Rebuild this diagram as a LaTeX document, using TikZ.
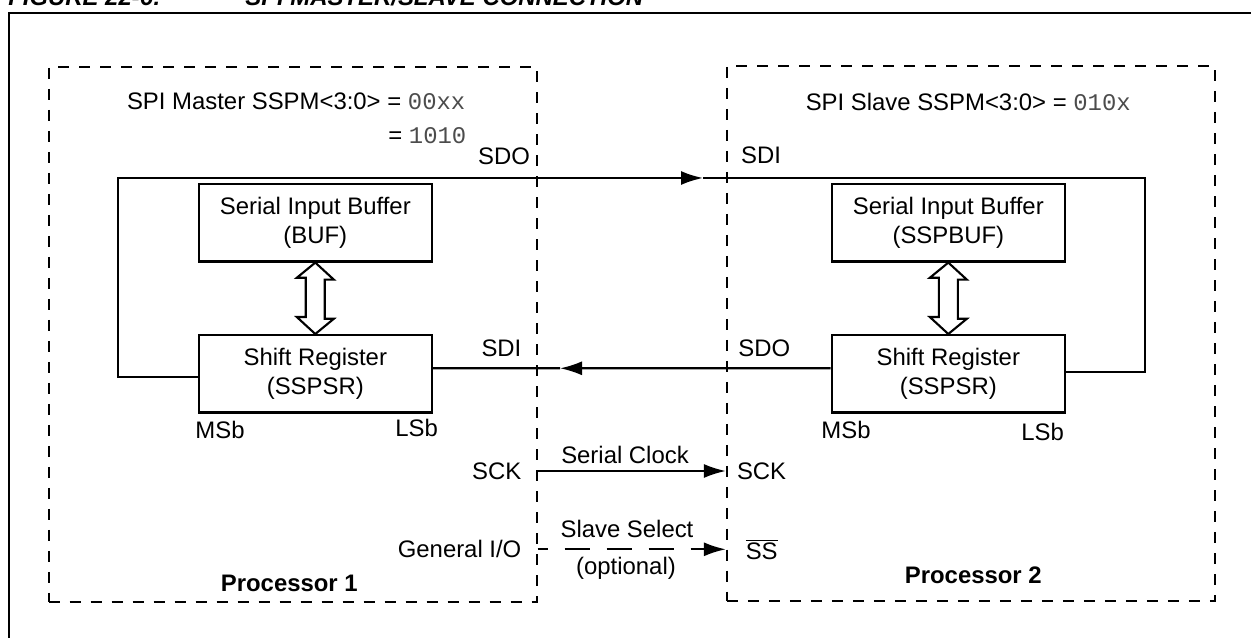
\documentclass[tikz,border=0pt]{standalone}
\usepackage{fontspec}
\setmainfont{Liberation Sans}
\setmonofont{Liberation Mono}
\usetikzlibrary{arrows.meta}

\begin{document}
\begin{tikzpicture}[
            x=0.02cm, y=-0.02cm,
            font=\fontsize{13.6}{16}\selectfont,
            box/.style={rectangle, draw, line width=1.2pt, minimum width=4.67cm, minimum height=1.55cm, align=center, fill=white, inner sep=0pt},
            proc/.style={rectangle, draw, line width=1.2pt, dash pattern=on 0.22cm off 0.2cm, minimum width=9.76cm, minimum height=10.7cm},
            wire/.style={line width=1.2pt},
            arrow/.style={wire, -{Latex[length=0.44cm, width=0.28cm]}},
            bus/.style={line width=1.2pt, fill=white, line join=miter},
            lbl/.style={inner sep=0pt}
        ]
            \useasboundingbox (0,0) rectangle (1251,638);

            % Title
            \node[lbl, anchor=base west, font=\fontsize{13.6}{16}\selectfont\bfseries\itshape] (title) at (8,6) {FIGURE 22-6:};
            \node[lbl, anchor=base west, font=\fontsize{13.6}{16}\selectfont\bfseries\itshape] (title2) at (245,6) {SPI MASTER/SLAVE CONNECTION};
            \draw[line width=1.6pt] (9,13) rectangle (1300,700);

            % Processors
            \node[proc] (proc1) at (292.7,334.4) {};
            \node[proc] (proc2) at (970.9,333.3) {};

            % Registers
            \node[box] (buf1) at (315.3,222.8) {Serial Input Buffer\\(BUF)};
            \node[box] (sr1) at (315.3,373.8) {Shift Register\\(SSPSR)};
            \node[box] (buf2) at (948.3,222.8) {Serial Input Buffer\\(SSPBUF)};
            \node[box] (sr2) at (948.3,373.8) {Shift Register\\(SSPSR)};

            % Bus arrows
            \draw[bus] (buf1.south) -- ++(18.5,17) -- ++(-9,0) -- ++(0,39.2) -- ++(9,0) -- (sr1.north)
                -- ++(-18.5,-17) -- ++(9,0) -- ++(0,-39.2) -- ++(-9,0) -- cycle;
            \draw[bus] (buf2.south) -- ++(18.5,17) -- ++(-9,0) -- ++(0,39.2) -- ++(9,0) -- (sr2.north)
                -- ++(-18.5,-17) -- ++(9,0) -- ++(0,-39.2) -- ++(-9,0) -- cycle;

            % Data lines
            \coordinate (loop1) at (118,178);
            \coordinate (loop2) at (1145,178);
            \coordinate (tip1) at (703,178);
            \coordinate (tip2) at (560,368.3);
            \draw[arrow] ([yshift=-0.06cm]sr1.west) -| (loop1) -- (tip1);
            \draw[wire] (tip1) -- (loop2) |- ([yshift=0.04cm]sr2.east);
            \draw[arrow] ([yshift=0.11cm]sr2.west) -- (tip2);
            \draw[wire] (tip2) -- ([yshift=0.11cm]sr1.east);

            % Labels
            \node[lbl, anchor=west] (mode1) at (126.7,101.6) {SPI Master SSPM<3:0> = {\ttfamily\color{black!70}00xx}};
            \node[lbl, anchor=west] (mode1b) at (388,136) {= {\ttfamily\color{black!70}1010}};
            \node[lbl, anchor=west] (mode2) at (805.4,101.8) {SPI Slave SSPM<3:0> = {\ttfamily\color{black!70}010x}};
            \node[lbl] (sdo1) at (504,156) {SDO};
            \node[lbl, anchor=west] (sdi2) at (740.8,155.7) {SDI};
            \node[lbl, anchor=east] (sdi1) at (521.7,348) {SDI};
            \node[lbl, anchor=west] (sdo2) at (738,348) {SDO};
            \node[lbl] (msb1) at (220,430) {MSb};
            \node[lbl] (lsb1) at (416.7,428) {LSb};
            \node[lbl] (msb2) at (846,430) {MSb};
            \node[lbl] (lsb2) at (1042.7,432) {LSb};

            % Clock and select
            \node[lbl, anchor=east] (sck1) at (521.7,471) {SCK};
            \node[lbl, anchor=west] (sck2) at (736.7,471) {SCK};
            \node[lbl] (clk) at (625,455) {Serial Clock};
            \draw[arrow] (sck1 -| proc1.east) -- (sck2 -| proc2.west);
            \node[lbl, anchor=east] (gio) at (521.7,549.3) {General I/O};
            \node[lbl] (ss) at (761.7,549.3) {$\overline{\hbox{SS}}$};
            \node[lbl] (sel) at (627,529) {Slave Select};
            \node[lbl] (opt) at (626,568) {(optional)};
            \draw[arrow, dash pattern=on 0.5cm off 0.34cm, dash phase=0.3cm] (gio -| proc1.east) -- (gio -| proc2.west);

            % Names
            \node[lbl, font=\fontsize{13.6}{16}\selectfont\bfseries] (name1) at (289.3,583.3) {Processor 1};
            \node[lbl, font=\fontsize{13.6}{16}\selectfont\bfseries] (name2) at (973.3,575) {Processor 2};
        \end{tikzpicture}
\end{document}
